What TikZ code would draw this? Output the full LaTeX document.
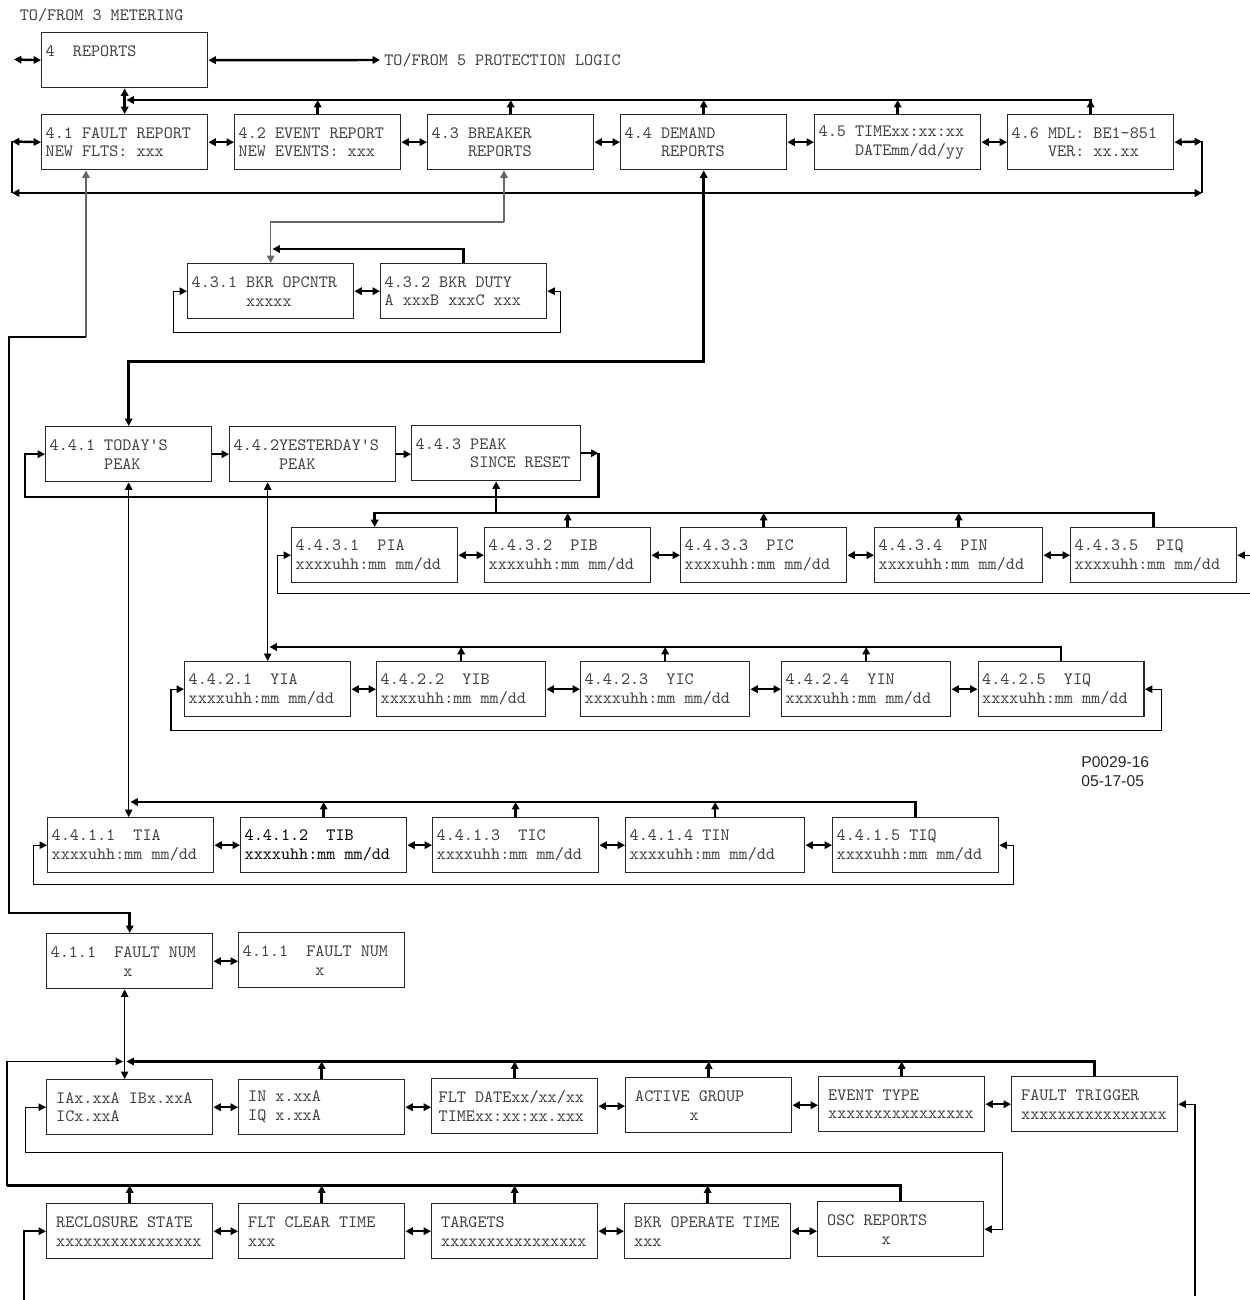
\documentclass[tikz,border=0pt]{standalone}
\usepackage{fontspec}
\newfontfamily\labelfont{Liberation Sans}
\usetikzlibrary{arrows.meta,calc}

\newcommand{\lcd}{\ttfamily\fontsize{9.85}{10.8}\selectfont}

\tikzset{
  menu/.style={draw=black!85, line width=0.8pt, anchor=north west, align=left,
    text width=3.16cm, inner xsep=0.08cm, inner ysep=0pt, minimum height=1.1cm,
    text=black!75, font=\lcd,
    execute at begin node={\spaceskip=\fontcharwd\font`\x\relax\xspaceskip=\spaceskip}},
  menub/.style={menu, inner xsep=0.19cm, text width=2.94cm},
  note/.style={inner sep=0.08cm, text=black!75, font=\lcd},
  bus/.style={line width=1.4pt},
  wire/.style={line width=0.6pt},
}

\begin{document}
\begin{tikzpicture}[x=0.02cm, y=-0.02cm, >={Triangle[length=4.2pt,width=4.2pt]}]
\useasboundingbox (0,0) rectangle (1249,1300);

% level 4 and its screens
\node[note, anchor=west] (met) at (15.5,15) {TO/FROM 3 METERING};
\node[menu] (rep) at (41,32) {4~~REPORTS\\\phantom{X}};
\node[note, anchor=west] (prot) at (380,60) {TO/FROM 5 PROTECTION LOGIC};
\node[menu] (flt) at (41,114) {4.1 FAULT REPORT\\NEW FLTS: xxx};
\node[menu] (evt) at (234,114) {4.2 EVENT REPORT\\NEW EVENTS: xxx};
\node[menu] (bkr) at (427,114) {4.3 BREAKER\\\mbox{}~~~~REPORTS};
\node[menu] (dmd) at (620,114) {4.4 DEMAND\\\mbox{}~~~~REPORTS};
\node[menu] (clk) at (814,114) {4.5 TIMExx:xx:xx\\\mbox{}~~~~DATEmm/dd/yy};
\node[menu] (mdl) at (1007,114) {4.6 MDL: BE1-851\\\mbox{}~~~~VER: xx.xx};

% breaker screens
\node[menu] (opc) at (187,263) {4.3.1 BKR OPCNTR\\\mbox{}~~~~~~xxxxx};
\node[menu] (duty) at (380,263) {4.3.2 BKR DUTY\\A xxxB xxxC xxx};

% demand screens
\node[menu] (tdy) at (45,426) {4.4.1 TODAY'S\\\mbox{}~~~~~~PEAK};
\node[menu] (yst) at (229,426) {4.4.2YESTERDAY'S\\\mbox{}~~~~~PEAK};
\node[menu, text width=3.22cm] (snc) at (411,425) {4.4.3 PEAK\\\mbox{}~~~~~~SINCE RESET};

\node[menu] (pi1) at (291,527) {4.4.3.1~~PIA\\xxxxuhh:mm mm/dd};
\node[menu] (pi2) at (484,527) {4.4.3.2~~PIB\\xxxxuhh:mm mm/dd};
\node[menu] (pi3) at (680,527) {4.4.3.3~~PIC\\xxxxuhh:mm mm/dd};
\node[menu, text width=3.2cm] (pi4) at (874,527) {4.4.3.4~~PIN\\xxxxuhh:mm mm/dd};
\node[menu] (pi5) at (1070,527) {4.4.3.5~~PIQ\\xxxxuhh:mm mm/dd};

\node[menu] (yi1) at (184,661) {4.4.2.1~~YIA\\xxxxuhh:mm mm/dd};
\node[menu, text width=3.22cm] (yi2) at (376,661) {4.4.2.2~~YIB\\xxxxuhh:mm mm/dd};
\node[menu, text width=3.22cm] (yi3) at (580,661) {4.4.2.3~~YIC\\xxxxuhh:mm mm/dd};
\node[menu, text width=3.22cm] (yi4) at (781,661) {4.4.2.4~~YIN\\xxxxuhh:mm mm/dd};
\node[menu] (yi5) at (977.5,661) {4.4.2.5~~YIQ\\xxxxuhh:mm mm/dd};

\node[menu] (ti1) at (47,817) {4.4.1.1~~TIA\\xxxxuhh:mm mm/dd};
\node[menu, text=black] (ti2) at (240,817) {4.4.1.2~~TIB\\xxxxuhh:mm mm/dd};
\node[menu] (ti3) at (432,817) {4.4.1.3~~TIC\\xxxxuhh:mm mm/dd};
\node[menu, text width=3.42cm] (ti4) at (625,817) {4.4.1.4 TIN\\xxxxuhh:mm mm/dd};
\node[menu] (ti5) at (832,817) {4.4.1.5 TIQ\\xxxxuhh:mm mm/dd};

% fault record screens
\node[menu] (num1) at (46,933) {4.1.1~~FAULT NUM\\\mbox{}~~~~~~~~x};
\node[menu] (num2) at (238,932) {4.1.1~~FAULT NUM\\\mbox{}~~~~~~~~x};

\node[menub] (ia) at (46,1079) {IAx.xxA IBx.xxA\\ICx.xxA};
\node[menub] (iq) at (238,1079) {IN x.xxA\\IQ x.xxA};
\node[menu, inner xsep=0.14cm, text width=3.04cm] (fd) at (431,1078) {FLT DATExx/xx/xx\\TIMExx:xx:xx.xxx};
\node[menub] (ag) at (625,1077) {ACTIVE GROUP\\\mbox{}~~~~~~x};
\node[menub] (et) at (818,1076) {EVENT TYPE\\xxxxxxxxxxxxxxxx};
\node[menub] (ft) at (1011,1076) {FAULT TRIGGER\\xxxxxxxxxxxxxxxx};

\node[menub] (rc) at (46,1203) {RECLOSURE STATE\\xxxxxxxxxxxxxxxx};
\node[menub] (fc) at (238,1203) {FLT CLEAR TIME\\xxx};
\node[menub] (tg) at (431,1203) {TARGETS\\xxxxxxxxxxxxxxxx};
\node[menub] (bo) at (624,1203) {BKR OPERATE TIME\\xxx};
\node[menub] (os) at (817,1201) {OSC REPORTS\\\mbox{}~~~~~~x};

\node[anchor=north west, align=left, inner sep=0pt, text=black!85,
  font=\labelfont\fontsize{8.9}{10.8}\selectfont] (fig) at (1081,756) {P0029-16\\05-17-05};

% top level connections
\coordinate (repL) at (14,59.5);
\draw[<->,bus] (repL) -- (rep.west);
\draw[<->,bus] (rep.east) -- (prot.west);
\draw[<->,bus] (rep.south) -- (flt.north);

\coordinate (upT) at (0,100);
\draw[->,bus,shorten >=1pt] (mdl.north) |- (rep.south |- upT);
\foreach \n in {evt,bkr,dmd,clk,mdl}
  \draw[->,bus] (\n.north) -- (\n.north |- upT);
\foreach \a/\b in {flt/evt,evt/bkr,bkr/dmd,dmd/clk,clk/mdl}
  \draw[<->,bus] (\a.east) -- (\a.east -| \b.west);

% wrap round the level 4 row
\coordinate (wrapL) at (12,141.5);
\coordinate (wrapR) at (1202,141.5);
\draw[<->,bus] (wrapL) -- (flt.west);
\draw[<->,bus] (mdl.east) -- (wrapR);
\draw[bus] (wrapL) -- ++(0,51.5) coordinate (wrapLB);
\draw[bus] (wrapR) -- ++(0,51.5) coordinate (wrapRB);
\draw[<->,bus] (wrapLB) -- (wrapRB);

% fault report down to fault number
\coordinate (fltD) at (86,337);
\draw[->,wire,black!60] (fltD) -- (fltD |- flt.south);
\draw[->,bus] (fltD) -- (9,337) -- (9,913) -| (num1.north);

% breaker reports
\coordinate (bkrD) at (504,222);
\draw[->,wire,black!60] (bkrD) -- (bkrD |- bkr.south);
\draw[->,wire,black!60] (bkrD) -| (opc.north);
\draw[->,bus,shorten >=1pt] (duty.north) |- ($(opc.north)+(0,-14)$);
\draw[<->,bus] (opc.east) -- (duty.west);
\draw[<->,wire] (opc.west) -- ++(-13.5,0) -- ++(0,41.5) -| ([xshift=0.26cm]duty.east) -- (duty.east);

% demand reports
\draw[<->,bus] (dmd.south) -- ++(0,191) -| (tdy.north);
\draw[->,bus] (tdy.east) -- (tdy.east -| yst.west);
\draw[->,bus] (yst.east) -- (yst.east -| snc.west);
\draw[->,bus] (snc.east) -- ++(17,0) coordinate (sncR);
\draw[->,bus] (sncR) -- ++(0,44) -| ([xshift=-0.4cm]tdy.west) -- (tdy.west);

% peak since reset
\coordinate (piB) at (0,513);
\draw[->,bus] (pi5.north) |- (pi1.north |- piB) -- (pi1.north);
\draw[->,bus] (snc.south |- piB) -- (snc.south);
\foreach \n in {pi2,pi3,pi4}
  \draw[->,bus] (\n.north) -- (\n.north |- piB);
\foreach \a/\b in {pi1/pi2,pi2/pi3,pi3/pi4,pi4/pi5}
  \draw[<->,bus] (\a.east) -- (\a.east -| \b.west);
\draw[<->,wire] (pi1.west) -- ++(-13.5,0) -- ++(0,38.5) -| ([xshift=0.4cm]pi5.east) -- (pi5.east);

% yesterday's peak
\draw[<->,wire] (yi1.north |- yst.south) -- (yi1.north);
\coordinate (yiB) at (0,647);
\draw[->,bus,shorten >=1pt] (yi5.north) |- (yi1.north |- yiB);
\foreach \n in {yi2,yi3,yi4}
  \draw[->,bus] (\n.north) -- (\n.north |- yiB);
\foreach \a/\b in {yi1/yi2,yi2/yi3,yi3/yi4,yi4/yi5}
  \draw[<->,bus] (\a.east) -- (\a.east -| \b.west);
\draw[<->,wire] (yi1.west) -- ++(-13,0) -- ++(0,41) -| ([xshift=0.34cm]yi5.east) -- (yi5.east);

% today's peak
\draw[<->,wire] (tdy.south) -- (tdy.south |- ti1.north);
\coordinate (tiB) at (0,802);
\draw[->,bus,shorten >=1pt] (ti5.north) |- (tdy.south |- tiB);
\foreach \n in {ti2,ti3,ti4}
  \draw[->,bus] (\n.north) -- (\n.north |- tiB);
\foreach \a/\b in {ti1/ti2,ti2/ti3,ti3/ti4,ti4/ti5}
  \draw[<->,bus] (\a.east) -- (\a.east -| \b.west);
\draw[<->,wire] (ti1.west) -- ++(-13.5,0) -- ++(0,39) -| ([xshift=0.28cm]ti5.east) -- (ti5.east);

% fault record
\draw[<->,bus] (num1.east) -- (num1.east -| num2.west);
\coordinate (numD) at ($(num1.south)+(-5,0)$);
\draw[<->,wire] (numD) -- (numD |- ia.north);
\coordinate (faB) at (0,1061.5);
\draw[->,bus,shorten >=1pt] (ft.north) |- (numD |- faB);
\foreach \n in {iq,fd,ag,et}
  \draw[->,bus] (\n.north) -- (\n.north |- faB);
\foreach \a/\b in {ia/iq,iq/fd,fd/ag,ag/et,et/ft}
  \draw[<->,bus] (\a.east) -- (\a.east -| \b.west);
\draw[<->,wire] (ia.west) -- ++(-20.7,0) -- ++(0,45) -| ([xshift=0.37cm]os.east) -- (os.east);

\coordinate (rcB) at (0,1185.5);
\coordinate (rcL) at (7,1185.5);
\draw[bus] (os.north) |- (rcL);
\draw[->,wire,shorten >=1pt] (rcL) |- (numD |- faB);
\foreach \n in {rc,fc,tg,bo}
  \draw[->,bus] (\n.north) -- (\n.north |- rcB);
\foreach \a/\b in {rc/fc,fc/tg,tg/bo,bo/os}
  \draw[<->,bus] (\a.east) -- (\a.east -| \b.west);

% ends running off the page
\coordinate (rcIn) at (24,1300);
\draw[->,bus] (rcIn) |- (rc.west);
\coordinate (ftIn) at (1195,1296);
\draw[->,wire] (ftIn) |- (ft.east);
\end{tikzpicture}
\end{document}
